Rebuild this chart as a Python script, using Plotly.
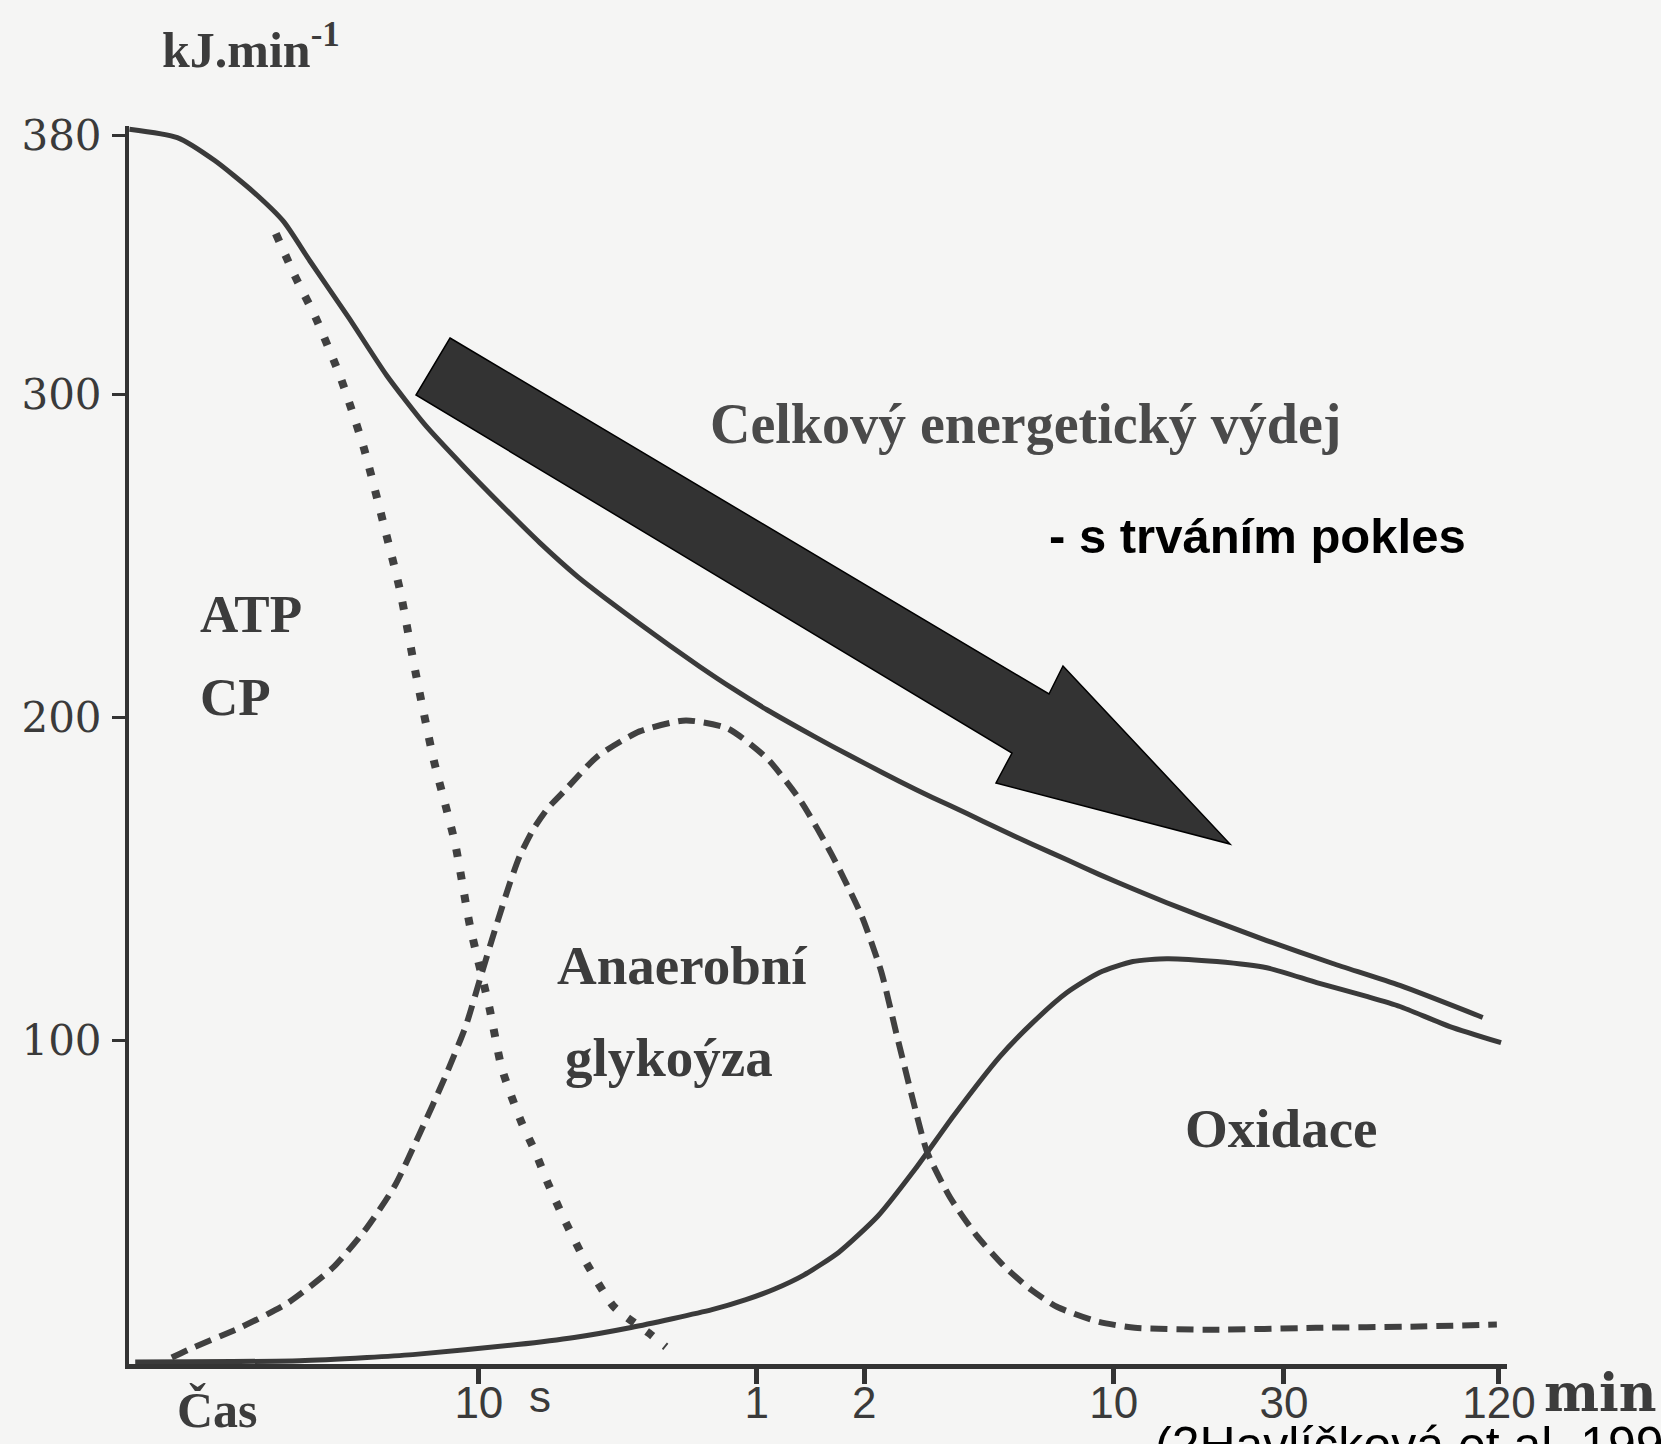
import plotly.graph_objects as go

# ---------------- data (time in seconds, energy in kJ.min^-1) ----------------
total_t = [1.05, 1.43, 1.82, 2.33, 2.84, 3.36, 4.32, 5.52, 7.06, 9.08,
           11.6, 14.8, 18.9, 23.3, 28.2, 34.3, 41.6, 51.5, 64.1, 79.3,
           98.1, 122, 151, 187, 233, 288, 356, 444, 548, 679,
           845, 1047, 1611, 2466, 3802, 6486]
total_v = [382, 379.4, 372.3, 362.7, 353.4, 341.3, 323.7, 305.8, 290.6, 277.6,
           265.6, 254.1, 243.6, 235.8, 229.0, 222.2, 215.7, 208.9, 202.4, 196.6,
           191.0, 185.5, 180.2, 175.2, 170.3, 165.4, 160.7, 156.0, 151.4, 147.0,
           142.7, 138.7, 131.0, 123.9, 117.1, 107.2]

oxid_t = [1.09, 3.15, 4.86, 6.53, 12.8, 18.5, 26.7, 45.0, 56.0, 67.4,
          81.3, 102, 131, 167, 214, 288, 356, 444, 548, 679,
          845, 1167, 1611, 2223, 3069, 3802, 5248, 7300]
oxid_v = [0.6, 1.0, 2.0, 2.9, 6.0, 8.2, 11.3, 16.8, 19.9, 23.2,
          27.5, 34.6, 45.7, 60.4, 76.9, 95.1, 105.6, 114.9, 121.1, 124.5,
          125.4, 124.5, 122.6, 118.0, 113.7, 110.6, 104.4, 99.4]

anaer_t = [1.38, 1.54, 2.15, 2.90, 3.90, 4.86, 5.82, 6.83, 8.03, 9.20,
           10.1, 11.1, 12.2, 13.0, 14.2, 15.6, 17.3, 21.5, 28.2, 38.0,
           49.8, 64.1, 79.8, 97.4, 118, 134, 148, 163, 180, 209,
           248, 297, 352, 416, 542, 688, 1130, 2211, 4297, 7105]
anaer_v = [2.0, 4.5, 11.3, 18.7, 29.8, 42.2, 55.2, 71.3, 88.6, 104.7,
           119.5, 134.4, 148.6, 157.0, 165.4, 171.9, 177.1, 188.0, 195.7, 199.1,
           196.6, 187.4, 174.1, 157.6, 138.7, 121.4, 101.9, 83.3, 65.7, 51.5,
           39.7, 30.1, 23.0, 17.7, 13.1, 11.2, 10.6, 11.2, 11.6, 12.2]

atp_t = [2.70, 3.05, 3.49, 4.11, 4.76, 5.38, 6.01, 6.66, 7.48, 8.57,
         9.44, 10.7, 11.6, 13.1, 14.4, 15.6, 17.3, 20.0, 23.9, 29.9, 33.4]
atp_v = [349.7, 336.7, 323.7, 304.8, 283.5, 260.9, 239.5, 213.5, 186.7, 161.3,
         135.6, 110.3, 91.4, 75.3, 65.5, 56, 45, 31.3, 17.7, 9.6, 5.3]

y_ticks = [100, 200, 300, 380]
x_tickvals = [10, 60, 120, 600, 1800, 7200]
x_ticktext = ["10", "1", "2", "10", "30", "120"]

# ---------------- layout geometry ----------------
W, H = 1661, 1444
L, R, T, B = 129, 154, 126, 80
PW, PH = W - L - R, H - T - B
BG = "#f5f5f4"
INK = "#3a3a3a"


def px(x):
    return (x - L) / PW


def py(y):
    return (H - B - y) / PH


fig = go.Figure()
fig.add_trace(go.Scatter(x=total_t, y=total_v, mode="lines",
                         line=dict(color=INK, width=5, shape="spline", smoothing=0.6)))
fig.add_trace(go.Scatter(x=oxid_t, y=oxid_v, mode="lines",
                         line=dict(color=INK, width=5, shape="spline", smoothing=0.6)))
fig.add_trace(go.Scatter(x=anaer_t, y=anaer_v, mode="lines",
                         line=dict(color="#404040", width=6, dash="17px,9px",
                                   shape="spline", smoothing=0.6)))
fig.add_trace(go.Scatter(x=atp_t, y=atp_v, mode="lines",
                         line=dict(color="#404040", width=8, dash="8px,15px",
                                   shape="spline", smoothing=0.6)))

# big arrow (decoration)
arrow_px = [(450, 338), (1049, 694), (1063, 666), (1230, 844),
            (996, 783), (1012, 753), (416, 395)]
path = "M " + " L ".join(f"{px(a):.5f},{py(b):.5f}" for a, b in arrow_px) + " Z"
fig.add_shape(type="path", xref="paper", yref="paper", path=path,
              fillcolor="#333333", line=dict(color="#000000", width=1.5), layer="above")

serif = "Liberation Serif"
sans = "Liberation Sans"
TXT = "#3c3c3c"


def note(text, x, y, size, family, color=TXT, xanchor="left", yanchor="middle"):
    fig.add_annotation(text=text, x=px(x), y=py(y), xref="paper", yref="paper",
                       showarrow=False, xanchor=xanchor, yanchor=yanchor,
                       font=dict(family=family, size=size, color=color))


note("<b>kJ.min<sup>-1</sup></b>", 160, 46, 50, serif)
note("<b>ATP</b>", 198, 614, 53, serif)
note("<b>CP</b>", 198, 697, 53, serif)
note("<b>Celkový energetický výdej</b>", 708, 424, 56, serif, color="#4a4a4a")
note("<b>- s trváním pokles</b>", 1047, 536, 49, sans, color="#000000")
note("<b>Anaerobní</b>", 555, 966, 55, serif)
note("<b>glykoýza</b>", 563, 1057, 55, serif)
note("<b>Oxidace</b>", 1183, 1128, 55, serif)
note("<b>Čas</b>", 175, 1410, 50, serif)
note("s", 527, 1396, 44, sans, color="#3a3a3a")
note("<b>min</b>", 1542, 1392, 52, "DejaVu Serif")
note("(2Havlíčková et al. 1999)", 1153, 1415, 50, sans, color="#000000", yanchor="top")

fig.update_layout(
    width=W, height=H, autosize=False,
    margin=dict(l=L, r=R, t=T, b=B, pad=0),
    paper_bgcolor=BG, plot_bgcolor=BG,
    showlegend=False, hovermode=False,
    xaxis=dict(type="log", range=[0.02, 3.88], showgrid=False, zeroline=False,
               automargin=False,
               showline=True, linewidth=5, linecolor="#333333",
               ticks="outside", ticklen=15, tickwidth=5, tickcolor="#333333",
               tickvals=x_tickvals, ticktext=x_ticktext, ticklabelstandoff=-19,
               tickfont=dict(family=sans, size=44, color="#3a3a3a")),
    yaxis=dict(range=[0, PH / 3.2325], showgrid=False, zeroline=False,
               automargin=False,
               showline=True, linewidth=4, linecolor="#333333",
               ticks="outside", ticklen=13, tickwidth=3, tickcolor="#333333",
               tickvals=y_ticks, ticklabelstandoff=2,
               tickfont=dict(family="DejaVu Serif", size=42, color="#3a3a3a")),
)

fig.write_html("out.html", config={"displayModeBar": False},
               post_script="document.body.style.margin='0';")
